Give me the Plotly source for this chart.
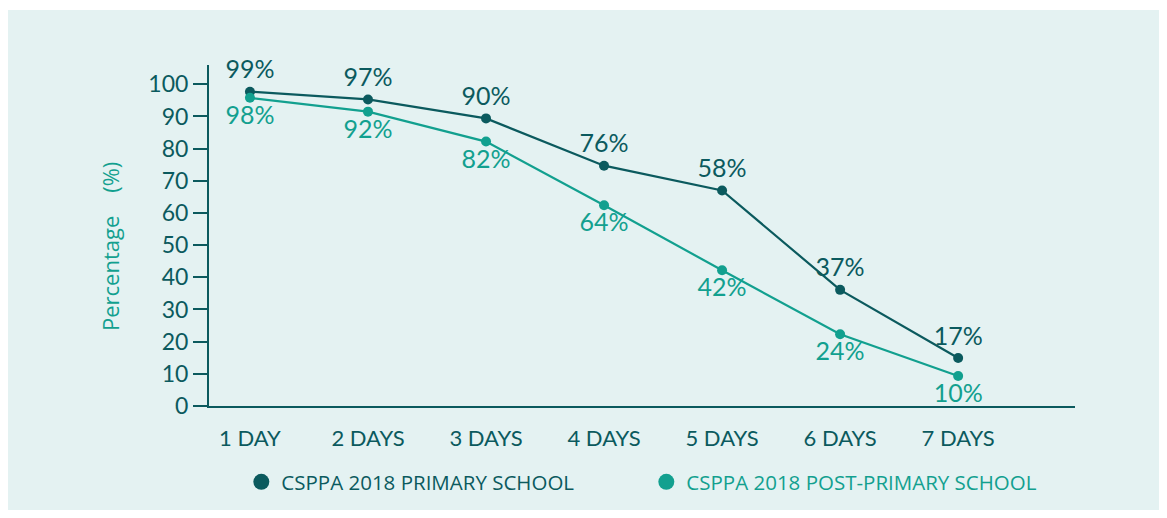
import plotly.graph_objects as go

categories = ["1 DAY", "2 DAYS", "3 DAYS", "4 DAYS", "5 DAYS", "6 DAYS", "7 DAYS"]
primary_values = [97.7, 95.3, 89.4, 74.7, 67.0, 36.1, 14.9]
primary_labels = ["99%", "97%", "90%", "76%", "58%", "37%", "17%"]
post_values = [95.8, 91.5, 82.2, 62.4, 42.2, 22.3, 9.3]
post_labels = ["98%", "92%", "82%", "64%", "42%", "24%", "10%"]
y_ticks = [0, 10, 20, 30, 40, 50, 60, 70, 80, 90, 100]

DARK = "#0b5a5e"
TEAL = "#12a08f"
BG = "#e4f2f2"
FONT = "Lato, 'Open Sans', sans-serif"
FONT2 = "'Open Sans', Lato, sans-serif"

xs = list(range(len(categories)))

fig = go.Figure()
fig.add_trace(go.Scatter(
    x=xs, y=primary_values, mode="lines+markers+text",
    line=dict(color=DARK, width=2.2), marker=dict(color=DARK, size=10),
    text=primary_labels, textposition="top center",
    textfont=dict(color=DARK, size=25, family=FONT),
    showlegend=False, cliponaxis=False,
))
fig.add_trace(go.Scatter(
    x=xs, y=post_values, mode="lines+markers+text",
    line=dict(color=TEAL, width=2.2), marker=dict(color=TEAL, size=10),
    text=post_labels, textposition="bottom center",
    textfont=dict(color=TEAL, size=25, family=FONT),
    showlegend=False, cliponaxis=False,
))
fig.add_trace(go.Scatter(
    x=[None], y=[None], mode="markers", marker=dict(color=DARK, size=16),
    name="CSPPA 2018 PRIMARY SCHOOL",
))
fig.add_trace(go.Scatter(
    x=[None], y=[None], mode="markers", marker=dict(color=TEAL, size=16),
    name="<span style='color:%s'>CSPPA 2018 POST-PRIMARY SCHOOL</span>" % TEAL,
))

# page offset (browser body margin)
OFF = 8
W, H = 1167 - 2 * OFF, 518 - 2 * OFF
L = 209 - OFF
T = 65 - OFF
R = W - (1075 - OFF)
B = H - (406 - OFF)
pw, ph = W - L - R, H - T - B

def px(xpix):
    return (xpix - OFF - L) / pw

def py(ypix):
    return (H - B - (ypix - OFF)) / ph

fig.add_shape(type="rect", xref="paper", yref="paper",
              x0=px(0), x1=px(1167), y0=py(512), y1=py(10),
              fillcolor=BG, line=dict(width=0), layer="below")

fig.add_annotation(text="Percentage &nbsp;&nbsp; (%)", xref="paper", yref="paper",
                   x=px(110), y=py(247), xanchor="center", yanchor="middle",
                   textangle=-90, showarrow=False,
                   font=dict(color=TEAL, size=22, family=FONT2))

fig.update_layout(
    width=W, height=H,
    margin=dict(l=L, r=R, t=T, b=B, autoexpand=False),
    paper_bgcolor="white", plot_bgcolor="rgba(0,0,0,0)",
    font=dict(family=FONT, color=DARK),
    legend=dict(orientation="h", x=0.505, xanchor="center", y=py(482), yanchor="middle",
                font=dict(size=20.5, color=DARK, family=FONT2), bgcolor="rgba(0,0,0,0)",
                itemwidth=30, entrywidth=360, entrywidthmode="pixels"),
    xaxis=dict(range=[-0.347, 6.99], tickvals=xs, ticktext=categories,
               showgrid=False, zeroline=False, showline=True, linecolor=DARK, linewidth=2,
               ticks="", tickfont=dict(size=22, color=DARK, family=FONT),
               ticklabelstandoff=12),
    yaxis=dict(range=[0, 106], tickvals=y_ticks, showgrid=False, zeroline=False,
               showline=True, linecolor=DARK, linewidth=2,
               ticks="outside", ticklen=14, tickwidth=2, tickcolor=DARK,
               tickfont=dict(size=23, color=DARK, family=FONT)),
)

fig.write_html("out.html")
